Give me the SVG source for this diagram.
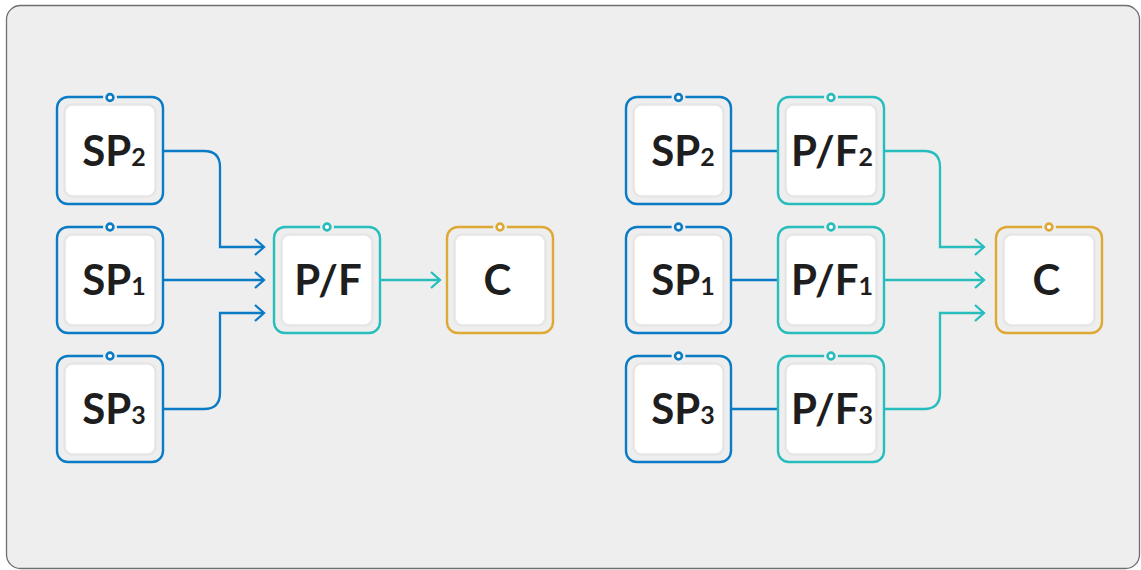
<svg xmlns="http://www.w3.org/2000/svg" width="1141" height="570" viewBox="0 0 1141 570">
  <defs>
    <style>
      .panel { fill: #eeeeee; stroke: #6f6f6f; stroke-width: 1.3; }
      .frame { fill: #eeeeee; stroke-width: 2.4; }
      .inner { fill: #ffffff; stroke: #e6e6e6; stroke-width: 2.5; }
      .blue { stroke: #0a7bc4; }
      .teal { stroke: #27bdbd; }
      .gold { stroke: #dea835; }
      .port-gap { fill: #eeeeee; stroke: #eeeeee; stroke-width: 3; }
      .port { fill: #ffffff; stroke-width: 2.6; }
      .lbl { font-family: Lato, "Open Sans", "Liberation Sans", sans-serif; font-weight: 700; font-size: 42px; fill: #1e1e1e; text-anchor: middle; }
      .sub { font-size: 25px; }
      .wire { fill: none; stroke-width: 2.3; }
      .wire.blue { marker-end: url(#arrowBlue); }
      .wire.teal { marker-end: url(#arrowTeal); }
      .wire.plain { marker-end: none; }
    </style>
    <marker id="arrowBlue" markerUnits="userSpaceOnUse" markerWidth="14" markerHeight="20" viewBox="-11 -10 13 20" refX="0" refY="0" orient="auto">
      <path d="M-9,-8 L0,0 L-9,8" fill="none" stroke="#0a7bc4" stroke-width="2.3"/>
    </marker>
    <marker id="arrowTeal" markerUnits="userSpaceOnUse" markerWidth="14" markerHeight="20" viewBox="-11 -10 13 20" refX="0" refY="0" orient="auto">
      <path d="M-9,-8 L0,0 L-9,8" fill="none" stroke="#27bdbd" stroke-width="2.3"/>
    </marker>
  </defs>

  <!-- background panel -->
  <rect class="panel" x="6.5" y="5.5" width="1133" height="563" rx="14"/>

  <!-- connectors -->
  <g id="connectors">
    <path class="wire blue" d="M163,151 H204 Q220,151 220,167 V247 H264"/>
    <path class="wire blue" d="M163,280 H264"/>
    <path class="wire blue" d="M163,409 H204 Q220,409 220,393 V313 H264"/>
    <path class="wire teal" d="M380,280 H440"/>

    <path class="wire blue plain" d="M731,151 H778"/>
    <path class="wire blue plain" d="M731,280 H778"/>
    <path class="wire blue plain" d="M731,409 H778"/>
    <path class="wire teal" d="M884,151 H924 Q940,151 940,167 V247 H984"/>
    <path class="wire teal" d="M884,280 H984"/>
    <path class="wire teal" d="M884,409 H924 Q940,409 940,393 V313 H984"/>
  </g>

  <!-- left group -->
  <g id="sp2-a">
    <rect class="frame blue" x="57" y="97" width="106" height="107" rx="11"/>
    <rect class="inner" x="64.5" y="104.5" width="91" height="92" rx="8"/>
    <circle class="port-gap" cx="110" cy="97.5" r="5.5"/>
    <circle class="port blue" cx="110" cy="97.5" r="3.4"/>
    <text class="lbl" x="114" y="166">SP<tspan class="sub">2</tspan></text>
  </g>
  <g id="sp1-a">
    <rect class="frame blue" x="57" y="227" width="106" height="106" rx="11"/>
    <rect class="inner" x="64.5" y="234.5" width="91" height="91" rx="8"/>
    <circle class="port-gap" cx="110" cy="227" r="5.5"/>
    <circle class="port blue" cx="110" cy="227" r="3.4"/>
    <text class="lbl" x="114" y="295">SP<tspan class="sub">1</tspan></text>
  </g>
  <g id="sp3-a">
    <rect class="frame blue" x="57" y="356" width="106" height="106" rx="11"/>
    <rect class="inner" x="64.5" y="363.5" width="91" height="91" rx="8"/>
    <circle class="port-gap" cx="110" cy="356" r="5.5"/>
    <circle class="port blue" cx="110" cy="356" r="3.4"/>
    <text class="lbl" x="114" y="424">SP<tspan class="sub">3</tspan></text>
  </g>
  <g id="pf-a">
    <rect class="frame teal" x="274" y="227" width="106" height="106" rx="11"/>
    <rect class="inner" x="281.5" y="234.5" width="91" height="91" rx="8"/>
    <circle class="port-gap" cx="327" cy="227" r="5.5"/>
    <circle class="port teal" cx="327" cy="227" r="3.4"/>
    <text class="lbl" x="328" y="295">P/F</text>
  </g>
  <g id="c-a">
    <rect class="frame gold" x="447" y="227" width="106" height="106" rx="11"/>
    <rect class="inner" x="454.5" y="234.5" width="91" height="91" rx="8"/>
    <circle class="port-gap" cx="500" cy="227" r="5.5"/>
    <circle class="port gold" cx="500" cy="227" r="3.4"/>
    <text class="lbl" x="497.5" y="295">C</text>
  </g>

  <!-- right group -->
  <g id="sp2-b">
    <rect class="frame blue" x="626" y="97" width="105" height="107" rx="11"/>
    <rect class="inner" x="633.5" y="104.5" width="90" height="92" rx="8"/>
    <circle class="port-gap" cx="678.5" cy="97.5" r="5.5"/>
    <circle class="port blue" cx="678.5" cy="97.5" r="3.4"/>
    <text class="lbl" x="683" y="166">SP<tspan class="sub">2</tspan></text>
  </g>
  <g id="sp1-b">
    <rect class="frame blue" x="626" y="227" width="105" height="106" rx="11"/>
    <rect class="inner" x="633.5" y="234.5" width="90" height="91" rx="8"/>
    <circle class="port-gap" cx="678.5" cy="227" r="5.5"/>
    <circle class="port blue" cx="678.5" cy="227" r="3.4"/>
    <text class="lbl" x="683" y="295">SP<tspan class="sub">1</tspan></text>
  </g>
  <g id="sp3-b">
    <rect class="frame blue" x="626" y="356" width="105" height="106" rx="11"/>
    <rect class="inner" x="633.5" y="363.5" width="90" height="91" rx="8"/>
    <circle class="port-gap" cx="678.5" cy="356" r="5.5"/>
    <circle class="port blue" cx="678.5" cy="356" r="3.4"/>
    <text class="lbl" x="683" y="424">SP<tspan class="sub">3</tspan></text>
  </g>
  <g id="pf2-b">
    <rect class="frame teal" x="778" y="97" width="106" height="107" rx="11"/>
    <rect class="inner" x="785.5" y="104.5" width="91" height="92" rx="8"/>
    <circle class="port-gap" cx="831" cy="97.5" r="5.5"/>
    <circle class="port teal" cx="831" cy="97.5" r="3.4"/>
    <text class="lbl" x="832" y="166">P/F<tspan class="sub">2</tspan></text>
  </g>
  <g id="pf1-b">
    <rect class="frame teal" x="778" y="227" width="106" height="106" rx="11"/>
    <rect class="inner" x="785.5" y="234.5" width="91" height="91" rx="8"/>
    <circle class="port-gap" cx="831" cy="227" r="5.5"/>
    <circle class="port teal" cx="831" cy="227" r="3.4"/>
    <text class="lbl" x="832" y="295">P/F<tspan class="sub">1</tspan></text>
  </g>
  <g id="pf3-b">
    <rect class="frame teal" x="778" y="356" width="106" height="106" rx="11"/>
    <rect class="inner" x="785.5" y="363.5" width="91" height="91" rx="8"/>
    <circle class="port-gap" cx="831" cy="356" r="5.5"/>
    <circle class="port teal" cx="831" cy="356" r="3.4"/>
    <text class="lbl" x="832" y="424">P/F<tspan class="sub">3</tspan></text>
  </g>
  <g id="c-b">
    <rect class="frame gold" x="996" y="227" width="106" height="106" rx="11"/>
    <rect class="inner" x="1003.5" y="234.5" width="91" height="91" rx="8"/>
    <circle class="port-gap" cx="1049" cy="227" r="5.5"/>
    <circle class="port gold" cx="1049" cy="227" r="3.4"/>
    <text class="lbl" x="1046.5" y="295">C</text>
  </g>
</svg>
